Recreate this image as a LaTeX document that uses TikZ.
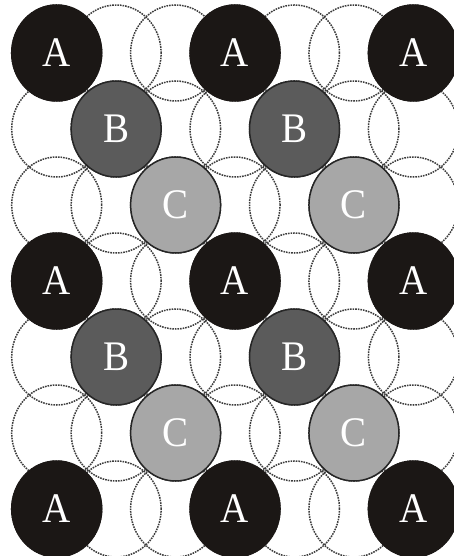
\documentclass[tikz,border=0pt]{standalone}
\usepackage{fontspec}
\setmainfont{Liberation Serif}
\usetikzlibrary{shapes.geometric}
\definecolor{aballc}{HTML}{1B1715}
\definecolor{bballc}{HTML}{5B5B5B}
\definecolor{cballc}{HTML}{A7A7A7}
\definecolor{dashgray}{HTML}{3C3C3C}
\tikzset{
  site/.style={ellipse, minimum width=90pt, minimum height=96pt, inner sep=0pt,
    draw=dashgray, line width=1.5pt, dash pattern=on 1.6pt off 1.0pt},
  ball/.style={ellipse, minimum width=90pt, minimum height=96pt, inner sep=0pt,
    line width=1.5pt, text=white, font=\fontsize{39}{39}\selectfont},
  aball/.style={ball, fill=aballc, draw=aballc},
  bball/.style={ball, fill=bballc, draw=black!85},
  cball/.style={ball, fill=cballc, draw=black!85},
}
\newcommand{\tallletter}[1]{\scalebox{1}[1.08]{#1}}
\begin{document}
\begin{tikzpicture}[x=1pt,y=-1pt]
\useasboundingbox (0,0) rectangle (454,556);
\clip (0,0) rectangle (454,556);
\foreach \j in {0,...,6}{
  \foreach \k in {0,...,6}{
    \node[site] (s-\j-\k) at ({56.7+59.45*\j},{53+76*\k}) {};
  }
}
\foreach \j/\k in {0/0,3/0,6/0,0/3,3/3,6/3,0/6,3/6,6/6}{
  \node[aball] (A-\j-\k) at ({56.7+59.45*\j},{53+76*\k}) {\tallletter{A}};
}
\foreach \j/\k in {1/1,4/1,1/4,4/4}{
  \node[bball] (B-\j-\k) at ({56.7+59.45*\j},{53+76*\k}) {\tallletter{B}};
}
\foreach \j/\k in {2/2,5/2,2/5,5/5}{
  \node[cball] (C-\j-\k) at ({56.7+59.45*\j},{53+76*\k}) {\tallletter{C}};
}
\end{tikzpicture}
\end{document}
